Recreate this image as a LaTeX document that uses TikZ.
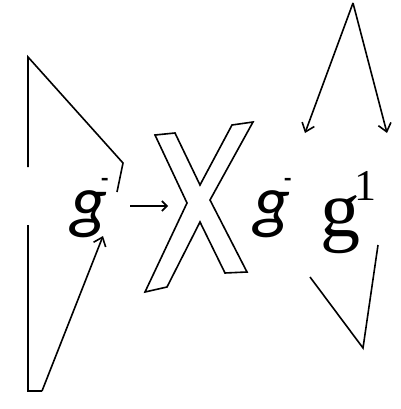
\documentclass[tikz,border=0pt]{standalone}
\usepackage{fontspec}
\usetikzlibrary{arrows.meta}
\newfontfamily\sansit{Carlito}
\newfontfamily\serifr{Liberation Serif}
\tikzset{
  ln/.style={line width=1.6pt, line join=miter, line cap=butt},
  arr/.style={ln, -{Straight Barb[length=8pt,width=13pt,line width=1.6pt]}},
  gi/.style={inner sep=0pt, text height=32pt, font=\sansit\itshape\fontsize{72}{72}\selectfont},
  sup/.style={inner sep=0pt, text depth=0pt, font=\sansit\bfseries\fontsize{24}{24}\selectfont},
}
\begin{document}
\begin{tikzpicture}[x=1pt,y=-1pt]
\useasboundingbox (0,0) rectangle (400,409);
% left bracket shape
\draw[ln] (28,167) -- (28,57) -- (123,163) -- (117,192);
\coordinate (lstart) at (28,225);
\coordinate (lcorner) at (28,391);
\coordinate (lfoot) at (42,391);
\coordinate (ltip) at (103,236);
\draw[ln] (lstart) -- (lcorner) -- (lfoot);
\draw[arr] (lfoot) -- (ltip);
% left g^-
\node[gi, anchor=base west] (g1) at (70,225) {g};
\node[sup, anchor=base west] (m1) at (101,186) {-};
% arrow
\coordinate (as) at (130,206);
\coordinate (ae) at (168,206);
\draw[ln, -{Straight Barb[length=5pt,width=10pt,line width=1.6pt]}] (as) -- (ae);
% X outline
\draw[ln, line join=miter] (155,135) -- (175,133) -- (200,185) -- (232,125) -- (253,122)
  -- (210,200) -- (247,272) -- (225,273) -- (200,222) -- (167,287) -- (145,292) -- (187,203) -- cycle;
% middle g^-
\node[gi, anchor=base west] (g2) at (253,225) {g};
\node[sup, anchor=base west] (m2) at (284,186) {-};
% serif g^1
\node[inner sep=0pt, anchor=base west, text height=36pt, font=\serifr\fontsize{80}{80}\selectfont] (g3) at (320,236) {g};
\node[inner sep=0pt, anchor=base west, text depth=0pt, font=\serifr\fontsize{44}{44}\selectfont] (one) at (354,200) {1};
% top arrows
\coordinate (apex) at (353,3);
\coordinate (t1) at (305,133);
\coordinate (t2) at (387,133);
\draw[arr] (apex) -- (t1);
\draw[arr] (apex) -- (t2);
% bottom V
\draw[ln] (310,277) -- (363,348) -- (378,245);
\end{tikzpicture}
\end{document}
